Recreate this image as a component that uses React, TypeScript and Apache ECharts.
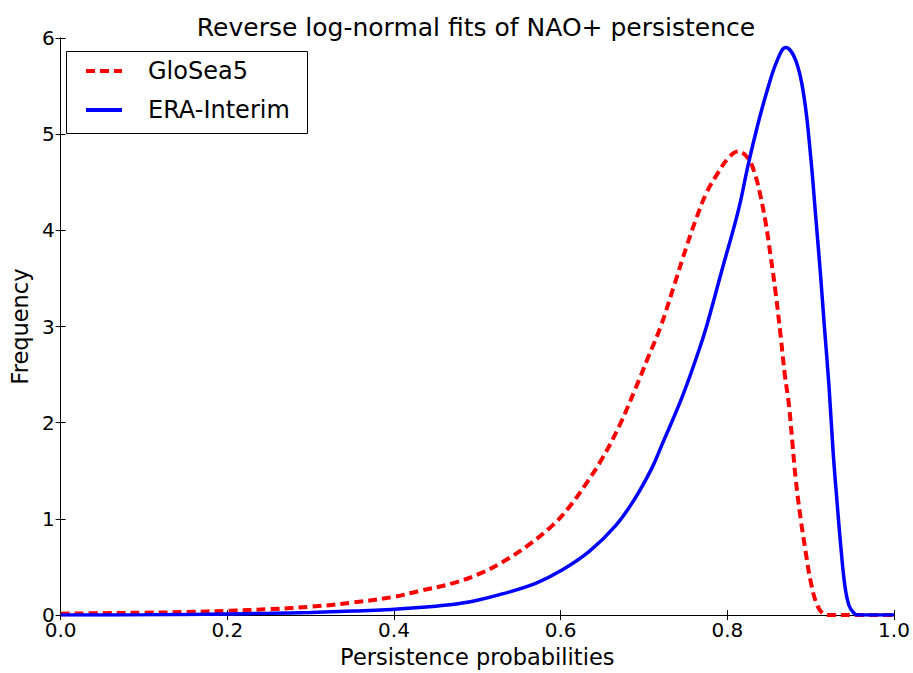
import React, { useEffect, useRef } from "react";
import * as echarts from "echarts";

const chartTitle = "Reverse log-normal fits of NAO+ persistence";
const xAxisName = "Persistence probabilities";
const yAxisName = "Frequency";
const seriesNames = ["GloSea5", "ERA-Interim"];

const glosea5X = [0, 0.05, 0.1, 0.15, 0.2, 0.25, 0.3, 0.35, 0.4, 0.43, 0.47, 0.5, 0.53, 0.56, 0.59, 0.61, 0.63, 0.65, 0.67, 0.69, 0.705, 0.72, 0.737, 0.751, 0.763, 0.775, 0.789, 0.801, 0.813, 0.825, 0.834, 0.84, 0.846, 0.852, 0.858, 0.864, 0.869, 0.874, 0.878, 0.882, 0.888, 0.894, 0.9, 0.908, 0.916, 0.922, 0.95, 1.0];
const glosea5Y = [0.015, 0.02, 0.025, 0.032, 0.045, 0.062, 0.087, 0.13, 0.19, 0.25, 0.33, 0.42, 0.55, 0.72, 0.93, 1.12, 1.36, 1.63, 1.96, 2.36, 2.68, 3.0, 3.45, 3.83, 4.13, 4.39, 4.6, 4.75, 4.82, 4.75, 4.56, 4.35, 4.08, 3.73, 3.35, 2.9, 2.5, 2.18, 1.8, 1.42, 1.0, 0.66, 0.35, 0.1, 0.01, 0, 0, 0];

const eraX = [0, 0.1, 0.2, 0.25, 0.3, 0.35, 0.39, 0.43, 0.47, 0.5, 0.53, 0.57, 0.6, 0.634, 0.666, 0.689, 0.709, 0.721, 0.745, 0.765, 0.775, 0.793, 0.813, 0.825, 0.836, 0.848, 0.86, 0.87, 0.882, 0.892, 0.9, 0.906, 0.912, 0.916, 0.922, 0.927, 0.932, 0.936, 0.941, 0.946, 0.952, 0.957, 0.98, 1.0];
const eraY = [0, 0.003, 0.012, 0.018, 0.028, 0.042, 0.055, 0.08, 0.11, 0.155, 0.22, 0.33, 0.46, 0.66, 0.93, 1.21, 1.52, 1.76, 2.25, 2.73, 3.0, 3.57, 4.2, 4.68, 5.08, 5.46, 5.77, 5.9, 5.77, 5.39, 4.77, 4.15, 3.52, 3.05, 2.38, 1.69, 1.14, 0.73, 0.31, 0.1, 0.02, 0, 0, 0];

const FONT = "DejaVu Sans";

export default function App() {
  const ref = useRef<HTMLDivElement>(null);
  useEffect(() => {
    if (!ref.current) return;
    const chart = echarts.init(ref.current, null, { renderer: "svg" });
    const glosea5 = glosea5X.map((x, i) => [x, glosea5Y[i]]);
    const era = eraX.map((x, i) => [x, eraY[i]]);
    const axisCommon = {
      axisLine: { show: true, lineStyle: { color: "#000", width: 1 } },
      axisTick: { show: true, inside: true, length: 5, lineStyle: { color: "#000" } },
      splitLine: { show: false },
    };
    chart.setOption({
      animation: false,
      backgroundColor: "#fff",
      textStyle: { fontFamily: FONT },
      title: {
        text: chartTitle,
        left: 471,
        textAlign: "center",
        top: 10,
        textStyle: { fontFamily: FONT, fontSize: 25, fontWeight: "normal", color: "#000" },
      },
      grid: { left: 55, right: 19, top: 38, bottom: 56, containLabel: false },
      legend: {
        data: seriesNames,
        orient: "vertical",
        left: 84,
        top: 59,
        padding: 0,
        itemGap: 15,
        itemWidth: 36,
        itemHeight: 24,
        selectedMode: false,
        z: 10,
        itemStyle: { color: "transparent", borderWidth: 0, opacity: 0 },
        lineStyle: { width: 4 },
        textStyle: { fontFamily: FONT, fontSize: 24, color: "#000", padding: [0, 0, 0, 21] },
      },
      xAxis: [
        {
          type: "value",
          min: 0,
          max: 1,
          interval: 0.2,
          position: "bottom",
          name: xAxisName,
          nameLocation: "middle",
          nameGap: 28,
          nameTextStyle: { fontFamily: FONT, fontSize: 22.5, color: "#000" },
          axisLabel: {
            color: "#000",
            fontFamily: FONT,
            fontSize: 20,
            margin: 5,
            formatter: (v: number) => v.toFixed(1),
          },
          ...axisCommon,
        },
        {
          type: "value",
          min: 0,
          max: 1,
          interval: 0.2,
          position: "top",
          axisLabel: { show: false },
          ...axisCommon,
        },
      ],
      yAxis: [
        {
          type: "value",
          min: 0,
          max: 6,
          interval: 1,
          position: "left",
          name: yAxisName,
          nameLocation: "middle",
          nameGap: 22,
          nameTextStyle: { fontFamily: FONT, fontSize: 22.5, color: "#000" },
          axisLabel: { color: "#000", fontFamily: FONT, fontSize: 20, margin: 6 },
          ...axisCommon,
        },
        {
          type: "value",
          min: 0,
          max: 6,
          interval: 1,
          position: "right",
          axisLabel: { show: false },
          ...axisCommon,
        },
      ],
      graphic: [
        {
          type: "rect",
          left: 66,
          top: 51,
          shape: { width: 241, height: 82 },
          style: { fill: "#fff", stroke: "#000", lineWidth: 1 },
          z: 4,
        },
      ],
      series: [
        {
          name: seriesNames[0],
          type: "line",
          data: glosea5,
          symbol: "none",
          showSymbol: false,
          smooth: 0.4,
          lineStyle: { color: "#ff0000", width: 4, type: [9, 5] },
          itemStyle: { color: "#ff0000" },
          z: 2,
        },
        {
          name: seriesNames[1],
          type: "line",
          data: era,
          symbol: "none",
          showSymbol: false,
          smooth: 0.4,
          lineStyle: { color: "#0000ff", width: 3.5, type: "solid" },
          itemStyle: { color: "#0000ff" },
          z: 2,
        },
      ],
    });
    return () => chart.dispose();
  }, []);
  return (
    <div
      ref={ref}
      style={{ position: "absolute", left: 0, top: 0, width: 913, height: 673 }}
    />
  );
}
